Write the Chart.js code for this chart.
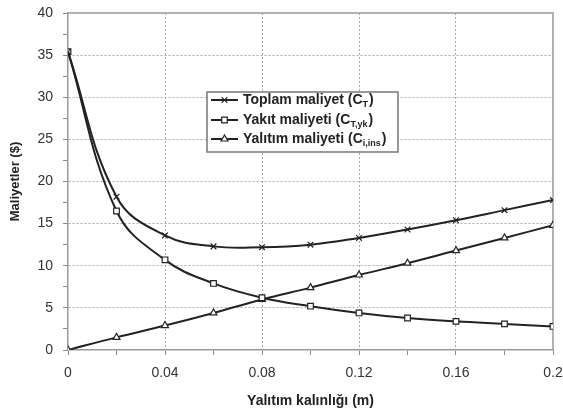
<!DOCTYPE html>
<html>
<head>
<meta charset="utf-8">
<script src="https://cdn.jsdelivr.net/npm/chart.js@4/dist/chart.umd.min.js"></script>
<style>
html,body{margin:0;padding:0;background:#fff;}
#wrap{position:relative;width:563px;height:414px;}
</style>
</head>
<body>
<div id="wrap"><canvas id="c" width="563" height="414"></canvas></div>
<script>
const thickness = [0, 0.02, 0.04, 0.06, 0.08, 0.10, 0.12, 0.14, 0.16, 0.18, 0.20];
const totalCost = [35.4, 18.2, 13.6, 12.3, 12.2, 12.5, 13.3, 14.3, 15.4, 16.6, 17.8];
const fuelCost = [35.4, 16.5, 10.7, 7.9, 6.2, 5.2, 4.4, 3.8, 3.4, 3.1, 2.8];
const insulationCost = [0, 1.5, 2.9, 4.4, 6.0, 7.4, 8.9, 10.3, 11.8, 13.3, 14.8];
const xTickLabels = ['0', '0.04', '0.08', '0.12', '0.16', '0.2'];
const yTickLabels = ['0', '5', '10', '15', '20', '25', '30', '35', '40'];
const seriesNames = [
  ['Toplam maliyet (C', 'T', ')'],
  ['Yakıt maliyeti (C', 'T,yk', ')'],
  ['Yalıtım maliyeti (C', 'i,ins', ')']
];

const FONT = "'Liberation Sans', Arial, sans-serif";
const LINE = '#222';

function pts(vals){ return thickness.map((t,i)=>({x:t,y:vals[i]})); }

const frame = {
  id:'frame',
  beforeDatasetsDraw(chart){
    const a = chart.chartArea, ctx = chart.ctx;
    ctx.save();
    ctx.strokeStyle = '#9a9a9a';
    ctx.lineWidth = 1.5;
    ctx.beginPath();
    ctx.moveTo(a.left, a.top); ctx.lineTo(a.right, a.top); ctx.lineTo(a.right, a.bottom);
    ctx.stroke();
    ctx.restore();
  }
};

const legendBox = {
  id:'legendBox',
  afterDraw(chart){
    const ctx = chart.ctx;
    const x0 = 207, y0 = 92, w = 191, h = 60;
    ctx.save();
    ctx.fillStyle = '#fff';
    ctx.fillRect(x0, y0, w, h);
    ctx.strokeStyle = '#777';
    ctx.lineWidth = 1.5;
    ctx.strokeRect(x0, y0, w, h);
    const rows = [100, 120, 139];
    chart.data.datasets.forEach((ds, i) => {
      const y = rows[i];
      ctx.strokeStyle = LINE; ctx.lineWidth = 2;
      ctx.beginPath(); ctx.moveTo(211, y); ctx.lineTo(238, y); ctx.stroke();
      ctx.fillStyle = '#fff'; ctx.strokeStyle = LINE; ctx.lineWidth = 1.2;
      Chart.helpers.drawPoint(ctx, {pointStyle: ds.pointStyle, radius: 4, rotation: 0, borderWidth: 1.2}, 224.5, y);
      ctx.fillStyle = '#222';
      ctx.font = 'bold 14px ' + FONT;
      ctx.textBaseline = 'middle';
      ctx.textAlign = 'left';
      const n = seriesNames[i];
      let x = 243;
      ctx.fillText(n[0], x, y); x += ctx.measureText(n[0]).width;
      ctx.font = 'bold 9px ' + FONT;
      ctx.fillText(n[1], x, y + 5); x += ctx.measureText(n[1]).width + 1;
      ctx.font = 'bold 14px ' + FONT;
      ctx.fillText(n[2], x, y);
    });
    ctx.restore();
  }
};

const common = {
  borderColor: LINE,
  borderWidth: 2,
  pointRadius: 4,
  pointBorderColor: LINE,
  pointBackgroundColor: '#fff',
  pointBorderWidth: 1.2,
  tension: 0.4,
  fill: false
};

new Chart(document.getElementById('c'), {
  type: 'line',
  data: {
    datasets: [
      Object.assign({}, common, {label: seriesNames[0].join(''), data: pts(totalCost), pointStyle: 'crossRot'}),
      Object.assign({}, common, {label: seriesNames[1].join(''), data: pts(fuelCost), pointStyle: 'rect'}),
      Object.assign({}, common, {label: seriesNames[2].join(''), data: pts(insulationCost), pointStyle: 'triangle'})
    ]
  },
  options: {
    responsive: false,
    animation: false,
    layout: {padding: {top: 13, right: 10, left: 0, bottom: 0}},
    plugins: {legend: {display: false}, tooltip: {enabled: false}},
    scales: {
      x: {
        type: 'linear', min: 0, max: 0.2,
        afterBuildTicks(s){ s.ticks = thickness.map(v=>({value:v})); },
        afterFit(s){ s.height = 64; s.paddingRight = 0; s.paddingLeft = 0; },
        ticks: {
          autoSkip: false, maxRotation: 0, padding: 10,
          color: '#333', font: {family: FONT, size: 14},
          callback(v, i){ return i % 2 === 0 ? xTickLabels[i/2] : ''; }
        },
        grid: {
          color: (c) => (c.index % 2 === 0 && c.index > 0 && c.index < 10) ? '#aaa' : 'rgba(0,0,0,0)',
          lineWidth: 1, tickColor: '#888', tickLength: 5, drawTicks: true
        },
        border: {color: '#9a9a9a', width: 1.5, dash: [2, 2]},
        title: {display: true, text: 'Yalıtım kalınlığı (m)', color: '#222', font: {family: FONT, size: 14, weight: 'bold'}, padding: {top: 0}}
      },
      y: {
        min: 0, max: 40,
        afterBuildTicks(s){ const t=[]; for(let v=0; v<=40; v+=2.5) t.push({value:v}); s.ticks=t; },
        afterFit(s){ s.width = 68; s.paddingTop = 0; s.paddingBottom = 0; },
        ticks: {
          autoSkip: false, padding: 10,
          color: '#333', font: {family: FONT, size: 14},
          callback(v){ return v % 5 === 0 ? yTickLabels[v/5] : ''; }
        },
        grid: {
          color: (c) => (c.tick && c.tick.value % 5 === 0 && c.tick.value > 0 && c.tick.value < 40) ? '#aaa' : 'rgba(0,0,0,0)',
          lineWidth: 1, tickColor: '#888', tickLength: 5, drawTicks: true
        },
        border: {color: '#9a9a9a', width: 1.5, dash: [2, 2]},
        title: {display: true, text: 'Maliyetler ($)', color: '#222', font: {family: FONT, size: 13, weight: 'bold'}, padding: {top: 8, bottom: 4}}
      }
    }
  },
  plugins: [frame, legendBox]
});
</script>
</body>
</html>
